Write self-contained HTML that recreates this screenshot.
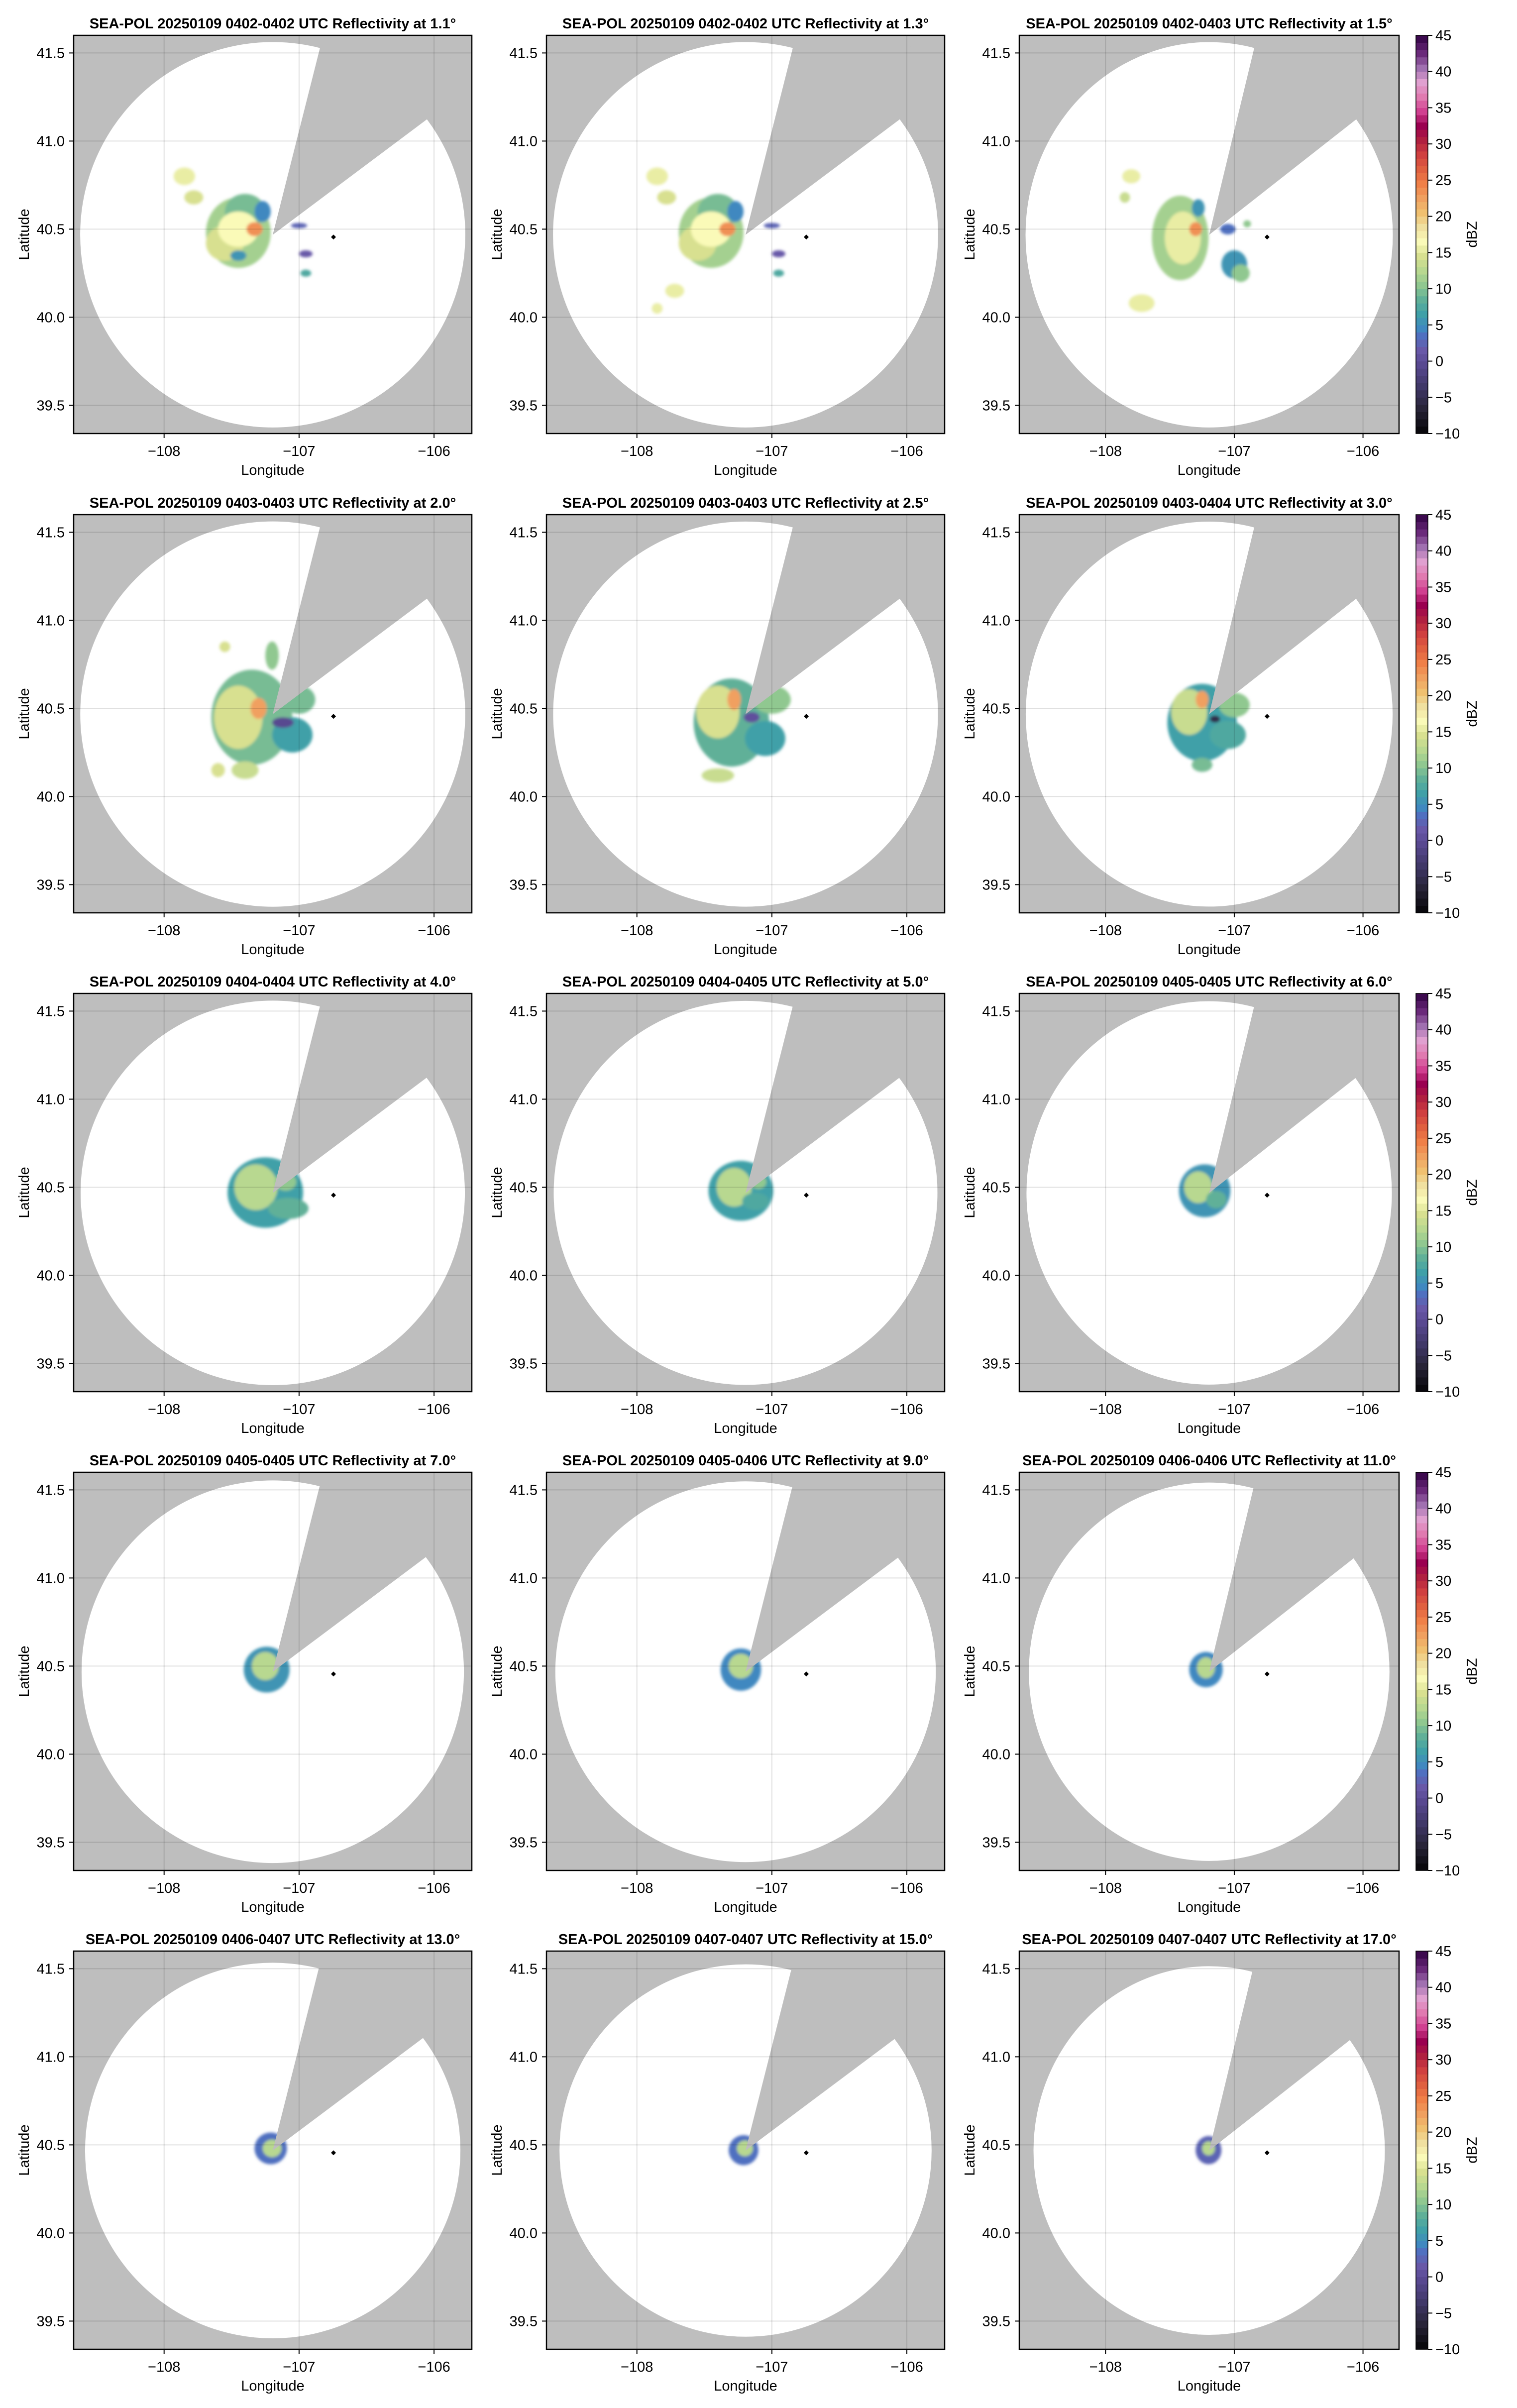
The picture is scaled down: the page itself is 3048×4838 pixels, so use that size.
<!DOCTYPE html>
<html><head><meta charset="utf-8"><style>
html,body{margin:0;padding:0;background:#fff;}
svg{display:block;font-family:"Liberation Sans",Arial,sans-serif;}
</style></head><body>
<svg id="fig" xmlns="http://www.w3.org/2000/svg" width="3048" height="4838" viewBox="0 0 3048 4838">
<defs><filter id="soft" x="-20%" y="-20%" width="140%" height="140%"><feGaussianBlur stdDeviation="3"/></filter></defs>
</svg>
<script>
// ---- data ----
const elevations = [1.1,1.3,1.5,2.0,2.5,3.0,4.0,5.0,6.0,7.0,9.0,11.0,13.0,15.0,17.0];
const timeRanges = ["0402-0402","0402-0402","0402-0403","0403-0403","0403-0403","0403-0404","0404-0404","0404-0405","0405-0405","0405-0405","0405-0406","0406-0406","0406-0407","0407-0407","0407-0407"];
const xTicks = [-108,-107,-106];
const yTicks = [39.5,40.0,40.5,41.0,41.5];
const yTickLabels = ["39.5","40.0","40.5","41.0","41.5"];
const cbTicks = [45,40,35,30,25,20,15,10,5,0,-5,-10];
const radarLon = -107.195, radarLat = 40.468;
const rangeLon = 1.427, rangeLat = 1.094;
const blockAz = [14.2, 53.2];
const markerLon = -106.745, markerLat = 40.455;
// echo blobs per panel: lon, lat, rx(deg), ry(deg), dBZ
const blobLon = [
 [-107.45,-107.55,-107.4,-107.85,-107.78,-107.45,-107.27,-107.45,-107.33,-107.0,-106.95,-106.95],
 [-107.45,-107.55,-107.4,-107.85,-107.78,-107.72,-107.85,-107.45,-107.27,-107.33,-107.0,-106.95,-106.95],
 [-107.42,-107.4,-107.8,-107.85,-107.72,-107.28,-107.3,-107.0,-106.95,-107.05,-106.9],
 [-107.35,-107.45,-107.0,-107.05,-107.12,-107.3,-107.4,-107.2,-107.55,-107.6],
 [-107.3,-107.4,-107.0,-107.05,-107.15,-107.28,-107.4],
 [-107.25,-107.35,-107.0,-107.05,-107.25,-107.25,-107.15],
 [-107.25,-107.32,-107.08,-107.1],
 [-107.23,-107.28,-107.12,-107.1],
 [-107.23,-107.28,-107.14],
 [-107.24,-107.25],
 [-107.23,-107.23],
 [-107.22,-107.22],
 [-107.21,-107.2],
 [-107.21,-107.2],
 [-107.2,-107.2]
];
const blobLat = [
 [40.48,40.42,40.6,40.8,40.68,40.5,40.6,40.35,40.5,40.52,40.36,40.25],
 [40.48,40.42,40.6,40.8,40.68,40.15,40.05,40.5,40.6,40.5,40.52,40.36,40.25],
 [40.45,40.45,40.8,40.68,40.08,40.62,40.5,40.3,40.25,40.5,40.53],
 [40.45,40.45,40.55,40.35,40.42,40.5,40.15,40.8,40.85,40.15],
 [40.42,40.48,40.55,40.33,40.45,40.55,40.12],
 [40.42,40.48,40.52,40.35,40.55,40.18,40.44],
 [40.47,40.5,40.38,40.53],
 [40.48,40.5,40.42,40.53],
 [40.48,40.5,40.43],
 [40.48,40.5],
 [40.48,40.5],
 [40.48,40.49],
 [40.48,40.48],
 [40.47,40.48],
 [40.47,40.48]
];
const blobRx = [
 [0.24,0.14,0.15,0.08,0.07,0.15,0.06,0.06,0.06,0.06,0.05,0.04],
 [0.24,0.14,0.15,0.08,0.07,0.07,0.04,0.15,0.06,0.06,0.06,0.05,0.04],
 [0.22,0.14,0.07,0.04,0.1,0.05,0.05,0.1,0.07,0.06,0.03],
 [0.3,0.18,0.12,0.15,0.08,0.06,0.1,0.05,0.04,0.05],
 [0.28,0.16,0.14,0.15,0.06,0.05,0.12],
 [0.27,0.14,0.12,0.14,0.05,0.08,0.04],
 [0.28,0.16,0.15,0.08],
 [0.24,0.13,0.1,0.06],
 [0.2,0.11,0.08],
 [0.17,0.1],
 [0.15,0.09],
 [0.13,0.07],
 [0.12,0.07],
 [0.11,0.06],
 [0.1,0.05]
];
const blobRy = [
 [0.2,0.1,0.1,0.05,0.04,0.1,0.06,0.03,0.04,0.015,0.02,0.02],
 [0.2,0.1,0.1,0.05,0.04,0.04,0.03,0.1,0.06,0.04,0.015,0.02,0.02],
 [0.24,0.15,0.04,0.03,0.05,0.05,0.04,0.08,0.05,0.03,0.02],
 [0.27,0.18,0.08,0.1,0.03,0.06,0.05,0.08,0.03,0.04],
 [0.25,0.15,0.08,0.1,0.03,0.06,0.04],
 [0.22,0.13,0.07,0.08,0.05,0.04,0.02],
 [0.2,0.13,0.06,0.05],
 [0.17,0.11,0.05,0.04],
 [0.15,0.09,0.05],
 [0.13,0.08],
 [0.12,0.07],
 [0.1,0.06],
 [0.09,0.05],
 [0.085,0.045],
 [0.08,0.04]
];
const blobDbz = [
 [12,15,10,16,15,17,5,6,24,3,2,8],
 [12,15,10,16,15,16,16,17,5,24,3,2,8],
 [12,16,16,14,16,6,24,6,11,4,11],
 [10,15,10,7,0,23,14,11,15,15],
 [9,15,11,7,1,23,14],
 [7,14,11,8,23,10,-5],
 [7,13,9,11],
 [7,13,8,11],
 [6,13,9],
 [6,13],
 [5,13],
 [5,13],
 [4,13],
 [4,13],
 [3,13]
];
// ---- layout ----
const NS="http://www.w3.org/2000/svg";
const svg=document.getElementById('fig');
const colX=[148,1098,2048], colW=[800,800,763], H=800;
const rowY=[71,1034,1996,2958,3920];
const lonMin=-108.67, lonMax=-105.72, latMin=39.34, latMax=41.6;
function el(tag,attrs,parent){const e=document.createElementNS(NS,tag);for(const k in attrs)e.setAttribute(k,attrs[k]);(parent||svg).appendChild(e);return e;}
const stops=[[-10,[0,0,0]],[-6,[40,36,56]],[-3,[64,56,104]],[0,[88,72,144]],[2,[104,88,168]],[4,[80,112,192]],[5,[64,136,192]],[7,[64,160,168]],[9,[96,176,152]],[11,[144,200,144]],[13,[184,216,144]],[15,[216,224,144]],[17,[250,250,184]],[19,[240,224,160]],[21,[240,192,112]],[23,[240,160,96]],[25,[240,128,72]],[27,[224,96,64]],[29,[208,64,64]],[31,[176,32,64]],[33,[154,0,80]],[35,[208,64,144]],[37,[224,122,176]],[39,[224,160,208]],[41,[160,112,176]],[43,[106,42,122]],[45,[61,10,79]]];
function cmap(v){v=Math.round(v);v=Math.max(-10,Math.min(45,v));for(let i=0;i<stops.length-1;i++){const a=stops[i],b=stops[i+1];if(v>=a[0]&&v<=b[0]){const t=(v-a[0])/(b[0]-a[0]);const c=a[1].map((x,j)=>Math.round(x+(b[1][j]-x)*t));return `rgb(${c[0]},${c[1]},${c[2]})`;}}return '#000';}

for(let p=0;p<15;p++){
  const r=Math.floor(p/3), c=p%3;
  const X0=colX[c], W=colW[c], Y0=rowY[r];
  const sx=lon=>X0+(lon-lonMin)/(lonMax-lonMin)*W;
  const sy=lat=>Y0+(latMax-lat)/(latMax-latMin)*H;
  const kx=W/(lonMax-lonMin), ky=H/(latMax-latMin);
  const g=el('g',{});
  
  
  const clip=el('clipPath',{id:'clip'+p},g);
  el('rect',{x:X0,y:Y0,width:W,height:H},clip);
  const t=el('text',{x:X0+W/2,y:Y0-14,'text-anchor':'middle','font-size':29,'font-weight':'bold',fill:'#000'},g);
  
  
  t.textContent=`SEA-POL 20250109 ${timeRanges[p]} UTC Reflectivity at ${elevations[p].toFixed(1)}°`;
  const pg=el('g',{'clip-path':`url(#clip${p})`},g);
  const bg=el('rect',{x:X0,y:Y0,width:W,height:H,fill:'#bebebe'},pg);
  
  
  const ce=Math.cos(elevations[p]*Math.PI/180);
  const rL=rangeLon*ce, rA=rangeLat*ce;
  const cov=el('ellipse',{cx:sx(radarLon),cy:sy(radarLat),rx:rL*kx,ry:rA*ky,fill:'#fff'},pg);
  
  
  const eg=el('g',{filter:'url(#soft)'},pg);
  
  
  for(let i=0;i<blobLon[p].length;i++){
    const b=el('ellipse',{cx:sx(blobLon[p][i]),cy:sy(blobLat[p][i]),rx:blobRx[p][i]*kx,ry:blobRy[p][i]*ky,fill:cmap(blobDbz[p][i])},eg);
    
    
  }
  let pts=[[sx(radarLon),sy(radarLat)]];
  for(let a=blockAz[0];a<=blockAz[1]+0.01;a+=1.95){const rad=a*Math.PI/180;pts.push([sx(radarLon+1.3*rL*Math.sin(rad)),sy(radarLat+1.3*rA*Math.cos(rad))]);}
  const wd=el('polygon',{points:pts.map(q=>q.join(',')).join(' '),fill:'#bebebe'},pg);
  
  
  xTicks.forEach(v=>{const l=el('line',{x1:sx(v),x2:sx(v),y1:Y0,y2:Y0+H,stroke:'rgba(0,0,0,0.12)','stroke-width':2},pg);});
  yTicks.forEach(v=>{const l=el('line',{x1:X0,x2:X0+W,y1:sy(v),y2:sy(v),stroke:'rgba(0,0,0,0.12)','stroke-width':2},pg);});
  const mx=sx(markerLon), my=sy(markerLat);
  const mk=el('polygon',{points:`${mx},${my-5} ${mx+5},${my} ${mx},${my+5} ${mx-5},${my}`,fill:'#000'},pg);
  
  
  const fr=el('rect',{x:X0,y:Y0,width:W,height:H,fill:'none',stroke:'#000','stroke-width':2.5},g);
  
  
  xTicks.forEach(v=>{
    el('line',{x1:sx(v),x2:sx(v),y1:Y0+H,y2:Y0+H+9,stroke:'#000','stroke-width':2},g);
    const tl=el('text',{x:sx(v),y:Y0+H+45,'text-anchor':'middle','font-size':29,fill:'#000'},g);
    
    
    tl.textContent='\u2212'+Math.abs(v);
  });
  yTicks.forEach((v,i)=>{
    el('line',{x1:X0-9,x2:X0,y1:sy(v),y2:sy(v),stroke:'#000','stroke-width':2},g);
    const tl=el('text',{x:X0-18,y:sy(v)+10,'text-anchor':'end','font-size':29,fill:'#000'},g);
    
    
    tl.textContent=yTickLabels[i];
  });
  const xl=el('text',{x:X0+W/2,y:Y0+H+83,'text-anchor':'middle','font-size':29,fill:'#000'},g);
  
  
  xl.textContent='Longitude';
  const yl=el('text',{x:0,y:0,'text-anchor':'middle','font-size':29,fill:'#000',transform:`translate(${X0-90},${Y0+H/2}) rotate(-90)`},g);
  
  
  yl.textContent='Latitude';
  if(c===2){
    const cb=el('g',{},g);
    
    
    const cx0=2845, cw=24, n=55, bh=H/n;
    for(let k=0;k<n;k++){
      const v=-10+k+0.5;
      el('rect',{x:cx0,y:Y0+H-(k+1)*bh,width:cw,height:bh+0.6,fill:cmap(v)},cb);
    }
    el('rect',{x:cx0,y:Y0,width:cw,height:H,fill:'none',stroke:'#000','stroke-width':1.5},cb);
    cbTicks.forEach(v=>{
      const yy=Y0+H-(v+10)/55*H;
      el('line',{x1:cx0+cw,x2:cx0+cw+9,y1:yy,y2:yy,stroke:'#000','stroke-width':2},cb);
      const tl=el('text',{x:cx0+cw+15,y:yy+10,'font-size':29,fill:'#000'},cb);
      
      
      tl.textContent=(v<0?'\u2212'+Math.abs(v):String(v));
    });
    const cl=el('text',{x:0,y:0,'text-anchor':'middle','font-size':29,fill:'#000',transform:`translate(2967,${Y0+H/2}) rotate(-90)`},cb);
    
    
    cl.textContent='dBZ';
  }
}
</script>
</body></html>
